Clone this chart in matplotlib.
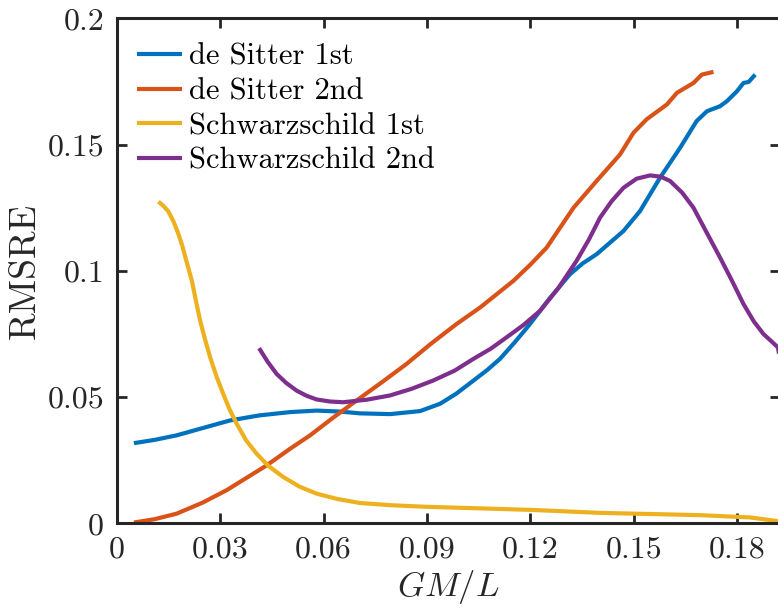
import matplotlib
matplotlib.use("Agg")
import matplotlib.pyplot as plt

plt.rcParams['font.family'] = 'serif'
plt.rcParams['font.serif'] = ['cmr10']
plt.rcParams['mathtext.fontset'] = 'cm'
plt.rcParams['axes.formatter.use_mathtext'] = True

# de Sitter 1st
ds1_x = [0.005, 0.011, 0.0174, 0.025, 0.0329, 0.0414, 0.0503, 0.058, 0.0648, 0.0706, 0.0793,
         0.088, 0.0938, 0.0985, 0.1035, 0.1075, 0.1112, 0.1155, 0.1199, 0.1255, 0.1315, 0.1352,
         0.1392, 0.147, 0.1518, 0.1576, 0.1634, 0.1682, 0.1712, 0.175, 0.177, 0.1799, 0.1818,
         0.1833, 0.1852]
ds1_y = [0.0318, 0.0331, 0.0349, 0.0378, 0.0408, 0.0428, 0.0441, 0.0447, 0.0443, 0.0436, 0.0433,
         0.0445, 0.0474, 0.0514, 0.0566, 0.0608, 0.0652, 0.0718, 0.079, 0.089, 0.0987, 0.1030,
         0.1066, 0.1158, 0.1237, 0.1369, 0.1487, 0.1593, 0.1632, 0.1652, 0.1672, 0.1711, 0.1744,
         0.1748, 0.1777]

# de Sitter 2nd
ds2_x = [0.005, 0.011, 0.0174, 0.025, 0.0319, 0.0435, 0.0503, 0.0561, 0.0625, 0.0696, 0.077,
         0.0841, 0.091, 0.0986, 0.1054, 0.1151, 0.12, 0.1247, 0.1325, 0.1392, 0.146, 0.1499,
         0.1537, 0.1596, 0.1625, 0.1673, 0.1697, 0.1731]
ds2_y = [0.0004, 0.0017, 0.0039, 0.0083, 0.0132, 0.023, 0.0296, 0.0349, 0.0416, 0.0487, 0.056,
         0.0632, 0.071, 0.079, 0.0855, 0.0961, 0.1025, 0.1092, 0.125, 0.1356, 0.1461, 0.1547,
         0.16, 0.1659, 0.1705, 0.1744, 0.1777, 0.1788]

# Schwarzschild 1st
sw1_x = [0.0121, 0.0135, 0.015, 0.0165, 0.0178, 0.0189, 0.0204, 0.0218, 0.023, 0.0242, 0.0256,
         0.0271, 0.029, 0.0309, 0.0328, 0.0348, 0.0375, 0.0406, 0.044, 0.0483, 0.053, 0.058,
         0.064, 0.0706, 0.08, 0.09, 0.12, 0.1402, 0.1692, 0.1837, 0.1925]
sw1_y = [0.1274, 0.1258, 0.1235, 0.1195, 0.115, 0.1105, 0.103, 0.0961, 0.088, 0.0803, 0.073,
         0.0658, 0.058, 0.0513, 0.045, 0.0395, 0.033, 0.0276, 0.0228, 0.0184, 0.0146, 0.0118,
         0.0097, 0.0081, 0.0072, 0.0066, 0.0054, 0.0042, 0.0033, 0.0024, 0.0008]

# Schwarzschild 2nd
sw2_x = [0.0413, 0.0438, 0.0464, 0.0492, 0.0522, 0.055, 0.058, 0.0618, 0.0657, 0.0725, 0.0793,
         0.0855, 0.0918, 0.098, 0.1035, 0.1085, 0.1131, 0.118, 0.1228, 0.128, 0.1334, 0.137,
         0.1402, 0.1435, 0.147, 0.1508, 0.1547, 0.1578, 0.1605, 0.164, 0.1673, 0.171, 0.175,
         0.1785, 0.1818, 0.1848, 0.1876, 0.19, 0.1918, 0.193]
sw2_y = [0.0694, 0.064, 0.0592, 0.0556, 0.0526, 0.0506, 0.0491, 0.0483, 0.048, 0.049, 0.0507,
         0.0533, 0.0566, 0.0605, 0.0652, 0.0692, 0.0737, 0.0786, 0.0842, 0.093, 0.104, 0.1125,
         0.1211, 0.1275, 0.1329, 0.1365, 0.1378, 0.1373, 0.1356, 0.131, 0.125, 0.1155, 0.1053,
         0.096, 0.0869, 0.080, 0.075, 0.072, 0.0697, 0.060]

labels = ['de Sitter 1st', 'de Sitter 2nd', 'Schwarzschild 1st', 'Schwarzschild 2nd']
colors = ['#0072BD', '#D95319', '#EDB120', '#7E2F8E']

x_ticks = [0, 0.03, 0.06, 0.09, 0.12, 0.15, 0.18]
x_ticklabels = ['0', '0.03', '0.06', '0.09', '0.12', '0.15', '0.18']
y_ticks = [0, 0.05, 0.1, 0.15, 0.2]
y_ticklabels = ['0', '0.05', '0.1', '0.15', '0.2']

fig = plt.figure(figsize=(7.78, 6.08), dpi=100)
ax = fig.add_axes([0.15, 0.139, 0.8526, 0.8309])

series = [(ds1_x, ds1_y), (ds2_x, ds2_y), (sw1_x, sw1_y), (sw2_x, sw2_y)]
for (xs, ys), lab, c in zip(series, labels, colors):
    ax.plot(xs, ys, color=c, lw=3, label=lab, solid_capstyle='butt', solid_joinstyle='round')

ax.set_xlim(0, 0.1924)
ax.set_ylim(0, 0.2)
ax.set_xticks(x_ticks)
ax.set_xticklabels(x_ticklabels)
ax.set_yticks(y_ticks)
ax.set_yticklabels(y_ticklabels)
ax.tick_params(direction='in', length=7, width=2, top=True, right=True,
               labelsize=23, colors='#262626', pad=9)
for s in ax.spines.values():
    s.set_linewidth(2.2)
    s.set_color('#262626')

ax.set_xlabel('$GM/L$', fontsize=25, color='#262626', labelpad=3)
ax.set_ylabel('RMSRE', fontsize=27, color='#262626', labelpad=4)

ax.legend(loc='upper left', frameon=False, fontsize=22, handlelength=1.5,
          handletextpad=0.2, labelspacing=0.24, borderaxespad=0.25,
          bbox_to_anchor=(0.0, 0.99))

fig.savefig('out.png', dpi=100)
